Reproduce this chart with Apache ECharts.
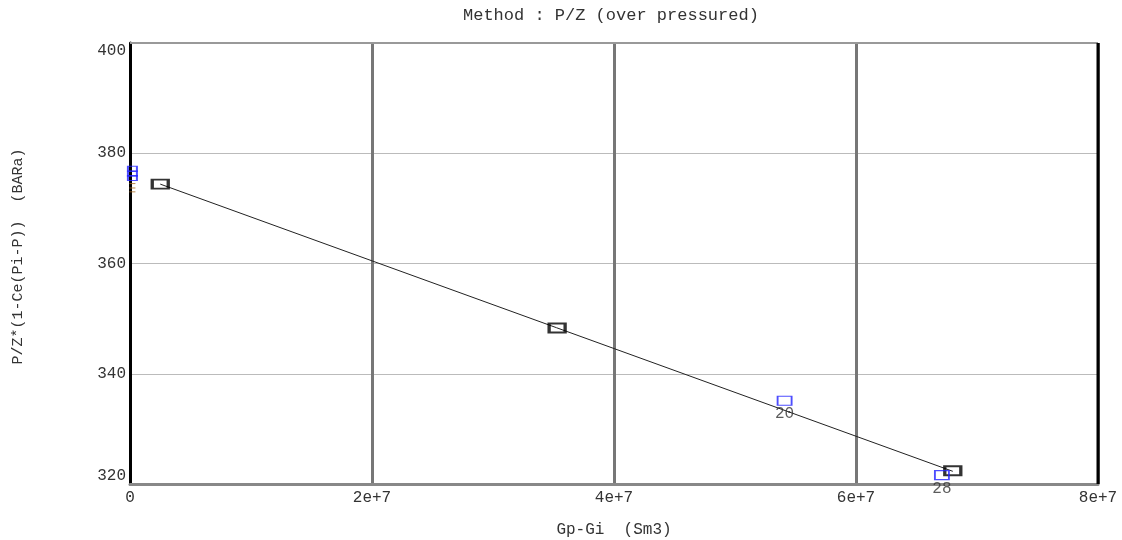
<!DOCTYPE html>
<html>
<head>
<meta charset="utf-8">
<script src="https://cdn.jsdelivr.net/npm/echarts@6/dist/echarts.min.js"></script>
<style>
  html, body { margin: 0; padding: 0; background: #fff; }
  #chart { width: 1122px; height: 540px; }
</style>
</head>
<body>
<div id="chart"></div>
<script>
// Axis ticks
const xTicks = [0, 2e7, 4e7, 6e7, 8e7];
const xTickLabels = ['0', '2e+7', '4e+7', '6e+7', '8e+7'];
const yTicks = [320, 340, 360, 380, 400];

// Points used in the fit (Gp-Gi, P/Z corrected)
const fitX = [2.5e6, 35.3e6, 68.0e6];
const fitY = [374.4, 348.3, 322.4];

// Measured points
const measX = [0.2e6, 0.2e6, 0.2e6, 54.1e6, 67.1e6];
const measY = [377.2, 376.3, 375.5, 335.1, 321.6];
const measLabels = ['', '', '', '20', '28'];

// Small dash marks at the origin
const dashX = [0.2e6, 0.2e6, 0.2e6];
const dashY = [374.5, 373.7, 373.0];

// Straight-line fit endpoints
const lineX = [2.5e6, 68.0e6];
const lineY = [374.4, 322.3];

const mono = '"Liberation Mono", "DejaVu Sans Mono", monospace';
const FS = 16;

const chart = echarts.init(document.getElementById('chart'));
chart.setOption({
  animation: false,
  backgroundColor: '#fff',
  title: {
    text: 'Method : P/Z (over pressured)',
    left: 458,
    top: 2,
    textStyle: { fontFamily: mono, fontSize: 17, fontWeight: 'normal', color: '#333' }
  },
  grid: { left: 130, right: 24, top: 43, bottom: 56, show: false, outerBoundsMode: 'none' },
  xAxis: {
    type: 'value',
    min: 0, max: 8e7, interval: 2e7,
    name: 'Gp-Gi  (Sm3)',
    nameLocation: 'middle',
    nameGap: 38,
    nameTextStyle: { fontFamily: mono, fontSize: FS, color: '#333' },
    axisLine: { show: true, onZero: false, lineStyle: { color: '#888', width: 3 } },
    axisTick: { show: false },
    axisLabel: {
      fontFamily: mono, fontSize: FS, color: '#333', margin: 6,
      formatter: v => { const i = xTicks.indexOf(v); return i >= 0 ? xTickLabels[i] : ''; }
    },
    splitLine: { show: true, lineStyle: { color: '#777', width: 3 } }
  },
  yAxis: [{
    type: 'value',
    min: 320, max: 400, interval: 20,
    name: 'P/Z*(1-Ce(Pi-P))  (BARa)',
    nameLocation: 'middle',
    nameGap: 104,
    nameTextStyle: { fontFamily: mono, fontSize: 15, color: '#333', padding: [0, 0, 0, 14] },
    axisLine: { show: true, onZero: false, lineStyle: { color: '#000', width: 3 } },
    axisTick: { show: false },
    axisLabel: {
      fontFamily: mono, fontSize: FS, color: '#333', margin: 4,
      verticalAlignMinLabel: 'bottom',
      verticalAlignMaxLabel: 'top',
      formatter: v => yTicks.includes(v) ? String(v) : ''
    },
    splitLine: { show: true, lineStyle: { color: '#bbb', width: 1 } }
  }],
  series: [
    {
      // top border of the plot frame
      type: 'line',
      data: [[0, 400], [8e7, 400]],
      symbol: 'none',
      lineStyle: { color: '#999', width: 2 },
      silent: true,
      clip: false,
      z: 1
    },
    {
      // right border of the plot frame
      type: 'line',
      data: [[8e7, 320], [8e7, 400]],
      symbol: 'none',
      lineStyle: { color: '#000', width: 3 },
      silent: true,
      clip: false,
      z: 2
    },
    {
      type: 'line',
      data: lineX.map((x, i) => [x, lineY[i]]),
      symbol: 'none',
      lineStyle: { color: '#222', width: 1 },
      z: 3
    },
    {
      type: 'scatter',
      data: fitX.map((x, i) => [x, fitY[i]]),
      symbol: 'rect',
      symbolSize: [16, 9],
      itemStyle: { color: 'rgba(0,0,0,0)', borderColor: '#000', borderWidth: 2.5 },
      z: 4
    },
    {
      type: 'scatter',
      data: measX.map((x, i) => ({ value: [x, measY[i]], label: { formatter: measLabels[i] } })),
      symbol: 'rect',
      symbolSize: (v, p) => p.dataIndex < 3 ? [9, 5] : [14, 9],
      itemStyle: { color: 'rgba(0,0,0,0)', borderColor: '#2020ff', borderWidth: 1.5 },
      label: {
        show: true,
        position: 'bottom',
        distance: 0,
        fontFamily: mono, fontSize: FS, color: '#333'
      },
      clip: false,
      z: 5
    },
    {
      type: 'scatter',
      data: dashX.map((x, i) => [x, dashY[i]]),
      symbol: 'rect',
      symbolSize: [6, 1],
      itemStyle: { color: '#a86a20' },
      clip: false,
      z: 6
    }
  ]
});
</script>
</body>
</html>
